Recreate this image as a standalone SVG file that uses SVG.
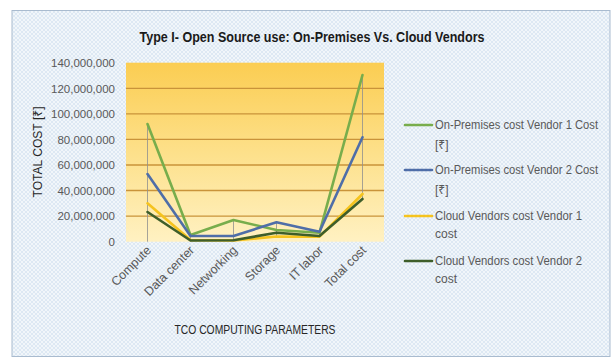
<svg xmlns="http://www.w3.org/2000/svg" width="614" height="360" viewBox="0 0 614 360">
  <defs>
    <!-- fine crosshatch texture of the chart background -->
    <pattern id="hatch" width="4" height="4" patternUnits="userSpaceOnUse">
      <rect width="4" height="4" fill="#dde8f3"/>
      <path d="M0,0 L4,4 M4,0 L0,4" stroke="#f3f7fb" stroke-width="0.9"/>
    </pattern>
    <linearGradient id="plotFill" x1="0" y1="0" x2="0" y2="1">
      <stop offset="0" stop-color="#fbcd52"/>
      <stop offset="0.5" stop-color="#fde08a"/>
      <stop offset="1" stop-color="#fff1c2"/>
    </linearGradient>
    <style>
      text { font-family: "Liberation Sans", "Noto Sans", "DejaVu Sans", sans-serif; }
      .title { font-size: 15px; font-weight: bold; fill: #1a1a1a; }
      .tick { font-size: 11.5px; fill: #595959; text-anchor: end; }
      .cat { font-size: 12.5px; fill: #595959; text-anchor: end; }
      .axis { font-size: 12px; fill: #262626; }
      .legend { font-size: 12px; fill: #595959; }
      .grid { stroke: #c9933a; stroke-width: 1.3; }
      .drop { stroke: #8f8f8f; stroke-width: 0.8; fill: none; }
      .series { fill: none; stroke-width: 2.6; stroke-linejoin: round; stroke-linecap: round; }
      .s1 { stroke: #78ad4c; }
      .s2 { stroke: #4f6ea8; }
      .s3 { stroke: #f5c31e; }
      .s4 { stroke: #3e5e2a; }
    </style>
  </defs>

  <!-- chart frame -->
  <rect x="12" y="10.5" width="598" height="346" fill="url(#hatch)" stroke="#a9bbcf" stroke-width="1"/>

  <text class="title" x="312" y="42" text-anchor="middle" textLength="345" lengthAdjust="spacingAndGlyphs">Type I- Open Source use: On-Premises Vs. Cloud Vendors</text>

  <!-- plot area -->
  <g id="plot-area">
    <rect x="126" y="62.7" width="258" height="179" fill="url(#plotFill)"/>
    <g class="grid">
      <line x1="126" y1="88.3" x2="384" y2="88.3"/>
      <line x1="126" y1="113.8" x2="384" y2="113.8"/>
      <line x1="126" y1="139.4" x2="384" y2="139.4"/>
      <line x1="126" y1="165" x2="384" y2="165"/>
      <line x1="126" y1="190.5" x2="384" y2="190.5"/>
      <line x1="126" y1="216.1" x2="384" y2="216.1"/>
    </g>
  </g>

  <!-- value axis -->
  <g id="value-axis">
    <text class="tick" x="115" y="67">140,000,000</text>
    <text class="tick" x="115" y="92.5">120,000,000</text>
    <text class="tick" x="115" y="118">100,000,000</text>
    <text class="tick" x="115" y="143.6">80,000,000</text>
    <text class="tick" x="115" y="169.2">60,000,000</text>
    <text class="tick" x="115" y="194.7">40,000,000</text>
    <text class="tick" x="115" y="220.3">20,000,000</text>
    <text class="tick" x="115" y="245.9">0</text>
    <text class="axis" transform="translate(42,152) rotate(-90)" text-anchor="middle" textLength="91" lengthAdjust="spacingAndGlyphs">TOTAL COST [₹]</text>
  </g>

  <!-- category axis -->
  <g id="category-axis">
    <text class="cat" transform="translate(152,251) rotate(-45)">Compute</text>
    <text class="cat" transform="translate(195,251) rotate(-45)">Data center</text>
    <text class="cat" transform="translate(238,251) rotate(-45)">Networking</text>
    <text class="cat" transform="translate(281,251) rotate(-45)">Storage</text>
    <text class="cat" transform="translate(324,251) rotate(-45)">IT labor</text>
    <text class="cat" transform="translate(367,251) rotate(-45)">Total cost</text>
    <text class="axis" x="255" y="334" text-anchor="middle" textLength="161" lengthAdjust="spacingAndGlyphs">TCO COMPUTING PARAMETERS</text>
  </g>

  <!-- connectors: high-low lines and data series -->
  <g id="series">
    <path class="drop" d="M147.5,124 V241.7 M190.5,235 V240.5 M233.5,220 V240.5 M276.5,222.3 V237.7 M319.5,231.7 V236.7 M362.5,75 V199"/>
    <polyline id="on-prem-v1" class="series s1" points="147.5,124 190.5,235 233.5,220 276.5,230 319.5,232.7 362.5,75"/>
    <polyline id="on-prem-v2" class="series s2" points="147.5,174 190.5,236 233.5,236 276.5,222.3 319.5,231.7 362.5,137.3"/>
    <polyline id="cloud-v1" class="series s3" points="147.5,203.3 190.5,240 233.5,240.5 276.5,236.5 319.5,236.7 362.5,194"/>
    <polyline id="cloud-v2" class="series s4" points="147.5,212 190.5,240.5 233.5,240.3 276.5,232.7 319.5,236 362.5,199"/>
  </g>

  <!-- legend -->
  <g id="legend">
    <g id="legend-on-prem-v1">
      <line class="series s1" x1="405" y1="125" x2="432" y2="125" stroke-linecap="butt"/>
      <text class="legend" x="435" y="129" textLength="163" lengthAdjust="spacingAndGlyphs">On-Premises cost Vendor 1 Cost</text>
      <text class="legend" x="435" y="149">[₹]</text>
    </g>
    <g id="legend-on-prem-v2">
      <line class="series s2" x1="405" y1="170" x2="432" y2="170" stroke-linecap="butt"/>
      <text class="legend" x="435" y="174" textLength="163" lengthAdjust="spacingAndGlyphs">On-Premises cost Vendor 2 Cost</text>
      <text class="legend" x="435" y="194">[₹]</text>
    </g>
    <g id="legend-cloud-v1">
      <line class="series s3" x1="405" y1="216" x2="432" y2="216" stroke-linecap="butt"/>
      <text class="legend" x="435" y="220" textLength="147" lengthAdjust="spacingAndGlyphs">Cloud Vendors cost Vendor 1</text>
      <text class="legend" x="435" y="238">cost</text>
    </g>
    <g id="legend-cloud-v2">
      <line class="series s4" x1="405" y1="261" x2="432" y2="261" stroke-linecap="butt"/>
      <text class="legend" x="435" y="265" textLength="147" lengthAdjust="spacingAndGlyphs">Cloud Vendors cost Vendor 2</text>
      <text class="legend" x="435" y="283">cost</text>
    </g>
  </g>
</svg>
